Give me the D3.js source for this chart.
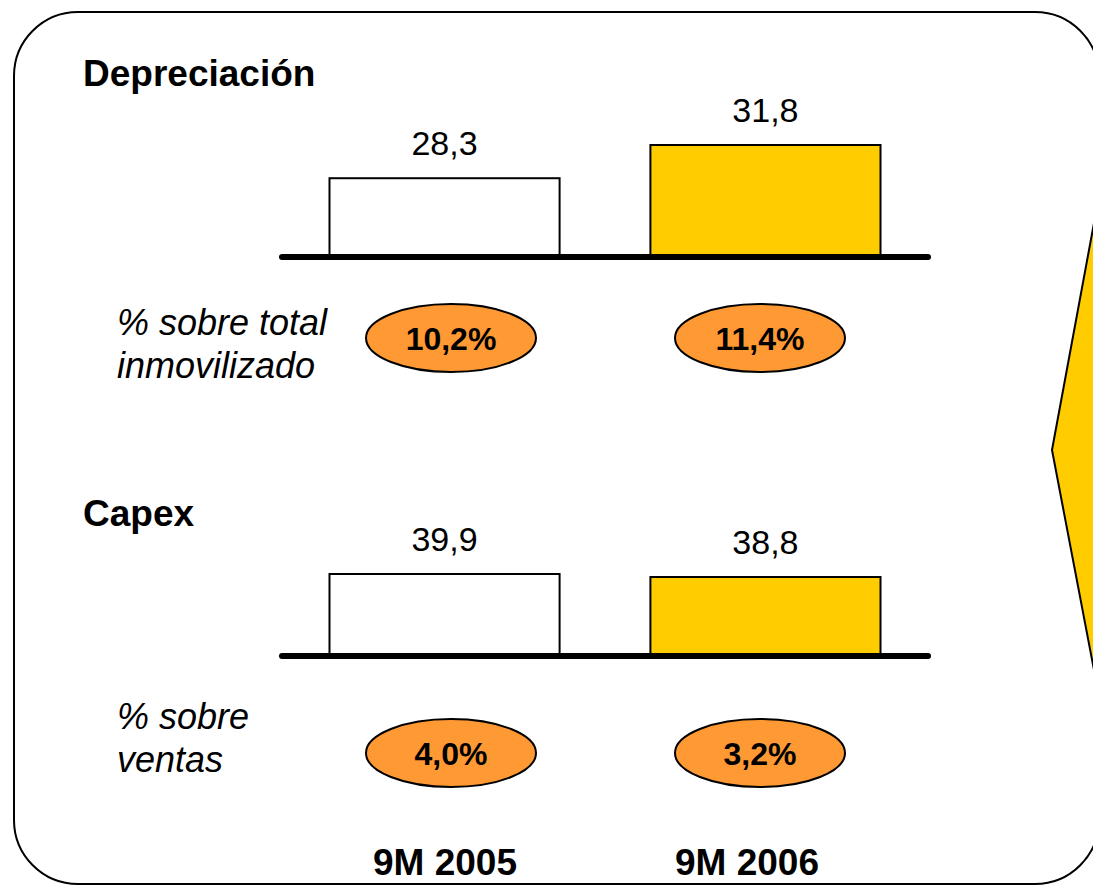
<!DOCTYPE html>
<html>
<head>
<meta charset="utf-8">
<script src="https://cdn.jsdelivr.net/npm/d3@7"></script>
<style>
  html, body { margin: 0; padding: 0; background: #fff; overflow: hidden; }
  svg { display: block; font-family: "Liberation Sans", Arial, sans-serif; }
</style>
</head>
<body>
<svg id="chart"></svg>
<script>
// data
const periods = ["9M 2005", "9M 2006"];
const depreciacion = [28.3, 31.8];
const capex = [39.9, 38.8];
const depPct = [10.2, 11.4];
const capexPct = [4.0, 3.2];
const barColors = ["#ffffff", "#ffcc00"];

const width = 1093;
const height = 886;

const es = d3.formatLocale({decimal: ",", thousands: ".", grouping: [3], currency: ["", " €"]});
const fmt = es.format(".1f");

const svg = d3.select("#chart")
    .attr("width", width)
    .attr("height", height);

// background frame + arrow
svg.append("rect")
    .attr("x", 14).attr("y", 12)
    .attr("width", 1085).attr("height", 872)
    .attr("rx", 64).attr("ry", 64)
    .attr("fill", "#fff")
    .attr("stroke", "#000")
    .attr("stroke-width", 2);

svg.append("path")
    .attr("d", d3.line()([[1052, 450], [1094, 223], [1130, 223], [1130, 670], [1094, 670]]) + "Z")
    .attr("fill", "#ffcc00")
    .attr("stroke", "#000")
    .attr("stroke-width", 2);

const x = d3.scaleBand()
    .domain(periods)
    .range([282, 928])
    .paddingInner(0.283)
    .paddingOuter(0.148);

// ellipse / year label positions
const xs = d3.scalePoint().domain(periods).range([451, 760]);
const xYear = d3.scalePoint().domain(periods).range([445, 747]);

const panels = [
    {title: "Depreciación", titleY: 86, values: depreciacion, pct: depPct,
     floor: 20, baseY: 257, topY: 145, note: ["% sobre total", "inmovilizado"], noteY: 335, ellY: 338},
    {title: "Capex", titleY: 526, values: capex, pct: capexPct,
     floor: 10, baseY: 656, topY: 574, note: ["% sobre", "ventas"], noteY: 729, ellY: 753}
];

panels.forEach(p => {
    const g = svg.append("g");
    const y = d3.scaleLinear()
        .domain([p.floor, d3.max(p.values)])
        .range([p.baseY, p.topY]);

    g.append("text")
        .attr("x", 83).attr("y", p.titleY)
        .attr("font-size", 37).attr("font-weight", "bold")
        .text(p.title);

    g.selectAll(".bar")
        .data(p.values)
        .join("rect")
        .attr("class", "bar")
        .attr("x", (d, i) => x(periods[i]))
        .attr("y", d => y(d))
        .attr("width", x.bandwidth())
        .attr("height", d => p.baseY - y(d))
        .attr("fill", (d, i) => barColors[i])
        .attr("stroke", "#000")
        .attr("stroke-width", 2);

    g.selectAll(".val")
        .data(p.values)
        .join("text")
        .attr("class", "val")
        .attr("x", (d, i) => x(periods[i]) + x.bandwidth() / 2)
        .attr("y", d => y(d) - 23)
        .attr("text-anchor", "middle")
        .attr("font-size", 34)
        .text(d => fmt(d));

    // baseline
    g.append("line")
        .attr("x1", x.range()[0]).attr("x2", x.range()[1])
        .attr("y1", p.baseY).attr("y2", p.baseY)
        .attr("stroke", "#000")
        .attr("stroke-width", 6)
        .attr("stroke-linecap", "round");

    g.append("text")
        .attr("x", 117).attr("y", p.noteY)
        .attr("font-size", 36).attr("font-style", "italic")
        .selectAll("tspan")
        .data(p.note)
        .join("tspan")
        .attr("x", 117)
        .attr("dy", (d, i) => i ? 43 : 0)
        .text(d => d);

    g.selectAll(".ell")
        .data(p.pct)
        .join("ellipse")
        .attr("class", "ell")
        .attr("cx", (d, i) => xs(periods[i]))
        .attr("cy", p.ellY)
        .attr("rx", 85).attr("ry", 34)
        .attr("fill", "#ff9933")
        .attr("stroke", "#000")
        .attr("stroke-width", 2);

    g.selectAll(".pct")
        .data(p.pct)
        .join("text")
        .attr("class", "pct")
        .attr("x", (d, i) => xs(periods[i]))
        .attr("y", p.ellY + 12)
        .attr("text-anchor", "middle")
        .attr("font-size", 32).attr("font-weight", "bold")
        .text(d => fmt(d) + "%");
});

svg.selectAll(".year")
    .data(periods)
    .join("text")
    .attr("class", "year")
    .attr("x", d => xYear(d))
    .attr("y", 875)
    .attr("text-anchor", "middle")
    .attr("font-size", 37).attr("font-weight", "bold")
    .text(d => d);
</script>
</body>
</html>
